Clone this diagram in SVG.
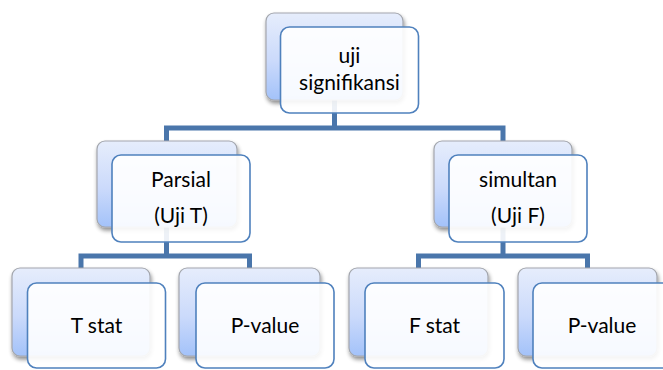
<svg xmlns="http://www.w3.org/2000/svg" width="663" height="370" viewBox="0 0 663 370">
  <style>
    .conn { fill: none; stroke: #4a76ab; stroke-width: 5; stroke-linejoin: miter; }
    .back { fill: url(#backFill); stroke: #a3a6ad; stroke-width: 1.2; filter: url(#shadow); }
    .front { fill: #ffffff; fill-opacity: 0.9; stroke: #4f81bd; stroke-width: 1.6; }
    .label { font-family: Lato, "Liberation Sans", sans-serif; font-size: 21px; fill: #000000; text-anchor: middle; }
  </style>
  <defs>
    <linearGradient id="backFill" x1="0" y1="0" x2="0" y2="1">
      <stop offset="0" stop-color="#e6edfc"/>
      <stop offset="0.55" stop-color="#cbdafb"/>
      <stop offset="1" stop-color="#a3c2f9"/>
    </linearGradient>
    <filter id="shadow" x="-10%" y="-10%" width="125%" height="130%">
      <feGaussianBlur in="SourceAlpha" stdDeviation="2"/>
      <feOffset dx="1" dy="3" result="blur"/>
      <feComponentTransfer><feFuncA type="linear" slope="0.45"/></feComponentTransfer>
      <feMerge><feMergeNode/><feMergeNode in="SourceGraphic"/></feMerge>
    </filter>
  </defs>

  <!-- connectors (drawn under the nodes) -->
  <g id="connectors">
    <path class="conn" d="M334.5,100 V128 M166.5,141 V128 H503 V141"/>
    <path class="conn" d="M166.5,227 V256 M81,268 V256 H249.5 V268"/>
    <path class="conn" d="M503,227 V256 M418.5,268 V256 H587.5 V268"/>
  </g>

  <g id="node-uji-signifikansi">
    <rect class="back" x="266" y="13" width="137" height="87" rx="8"/>
    <rect class="front" x="280.5" y="27" width="138" height="86" rx="9"/>
    <text class="label" x="349.5" y="63">uji</text>
    <text class="label" x="349.5" y="90">signifikansi</text>
  </g>

  <g id="node-parsial">
    <rect class="back" x="97" y="141" width="140" height="86" rx="8"/>
    <rect class="front" x="112" y="155" width="138" height="87" rx="9"/>
    <text class="label" x="181" y="187">Parsial</text>
    <text class="label" x="181" y="223">(Uji T)</text>
  </g>

  <g id="node-simultan">
    <rect class="back" x="434" y="141" width="138" height="86" rx="8"/>
    <rect class="front" x="449" y="155" width="138" height="87" rx="9"/>
    <text class="label" x="518" y="187">simultan</text>
    <text class="label" x="518" y="223">(Uji F)</text>
  </g>

  <g id="node-t-stat">
    <rect class="back" x="12" y="268" width="138" height="88" rx="8"/>
    <rect class="front" x="27.5" y="283" width="138" height="85" rx="9"/>
    <text class="label" x="96.5" y="333">T stat</text>
  </g>

  <g id="node-p-value-t">
    <rect class="back" x="179" y="268" width="141" height="88" rx="8"/>
    <rect class="front" x="196" y="283" width="138" height="85" rx="9"/>
    <text class="label" x="265" y="333">P-value</text>
  </g>

  <g id="node-f-stat">
    <rect class="back" x="349" y="268" width="139" height="88" rx="8"/>
    <rect class="front" x="365" y="283" width="139" height="85" rx="9"/>
    <text class="label" x="434.5" y="333">F stat</text>
  </g>

  <g id="node-p-value-f">
    <rect class="back" x="518" y="268" width="139" height="88" rx="8"/>
    <rect class="front" x="533" y="283" width="139" height="85" rx="9"/>
    <text class="label" x="602" y="333">P-value</text>
  </g>
</svg>
